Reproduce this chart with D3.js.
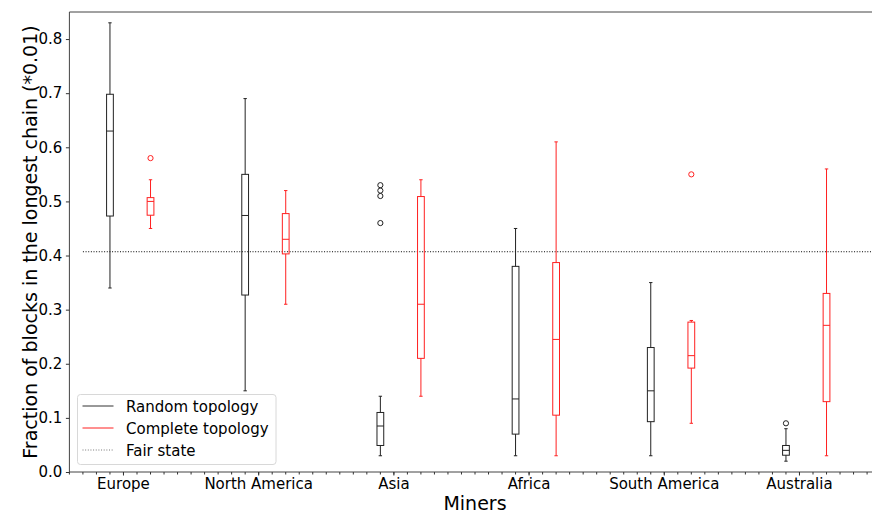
<!DOCTYPE html>
<html>
<head>
<meta charset="utf-8">
<script src="https://cdn.jsdelivr.net/npm/d3@7"></script>
<style>
  body { margin: 0; background: #fff; }
  text { font-family: "DejaVu Sans", sans-serif; fill: #000; }
</style>
</head>
<body>
<script>
// data: [lower whisker, q1, median, q3, upper whisker]
const regions = ['Europe', 'North America', 'Asia', 'Africa', 'South America', 'Australia'];
const randomStats = [
  [0.34, 0.473, 0.63, 0.698, 0.83],
  [0.15, 0.327, 0.474, 0.55, 0.69],
  [0.03, 0.049, 0.085, 0.11, 0.14],
  [0.03, 0.07, 0.135, 0.38, 0.45],
  [0.03, 0.093, 0.15, 0.23, 0.35],
  [0.02, 0.031, 0.04, 0.049, 0.08],
];
const randomOutliers = [[], [], [0.53, 0.52, 0.51, 0.46], [], [], [0.09]];
const completeStats = [
  [0.45, 0.4745, 0.50, 0.507, 0.54],
  [0.31, 0.403, 0.43, 0.4775, 0.52],
  [0.14, 0.21, 0.31, 0.509, 0.54],
  [0.03, 0.105, 0.245, 0.387, 0.61],
  [0.09, 0.192, 0.215, 0.277, 0.28],
  [0.03, 0.13, 0.271, 0.33, 0.56],
];
const completeOutliers = [[0.58], [], [], [], [0.55], []];
const fairState = 0.407;
const yTicks = [0, 0.1, 0.2, 0.3, 0.4, 0.5, 0.6, 0.7, 0.8];

const width = 872;
const height = 514;
const margin = { top: 12, left: 69.4, bottom: 42 };

const svg = d3.select('body').append('svg')
  .attr('width', width)
  .attr('height', height);

// box positions: random at 10i+3, label at 10i+4, complete at 10i+6
const x = d3.scaleLinear().domain([0, 60]).range([margin.left, margin.left + 60 * 13.52]);
const y = d3.scaleLinear().domain([0, 0.85]).range([height - margin.bottom, margin.top]);
const boxW = x(0.5) - x(0);

// spines
svg.append('line')
  .attr('x1', x(0)).attr('x2', width)
  .attr('y1', y(0.85)).attr('y2', y(0.85))
  .attr('stroke', '#444');
svg.append('line')
  .attr('x1', x(0)).attr('x2', x(0))
  .attr('y1', y(0)).attr('y2', y(0.85))
  .attr('stroke', '#444');
svg.append('line')
  .attr('x1', x(0)).attr('x2', width)
  .attr('y1', y(0)).attr('y2', y(0))
  .attr('stroke', '#444');

// y axis
const yAxis = svg.append('g')
  .attr('transform', `translate(${x(0)},0)`)
  .call(d3.axisLeft(y).tickValues(yTicks).tickFormat(d3.format('.1f')).tickSize(3.5).tickPadding(3.5));
yAxis.select('.domain').remove();
yAxis.selectAll('line').attr('stroke', '#333');
yAxis.selectAll('text').style('font-size', '15px').style('font-family', '"DejaVu Sans", sans-serif');

// x axis: minor ticks every unit, labels at group centres
const xAxisG = svg.append('g').attr('transform', `translate(0,${y(0)})`);
xAxisG.selectAll('line.minor')
  .data(d3.range(0, 61))
  .enter().append('line')
    .attr('x1', d => x(d)).attr('x2', d => x(d))
    .attr('y1', 0).attr('y2', 2.5)
    .attr('stroke', '#333');
xAxisG.selectAll('line.major')
  .data(regions)
  .enter().append('line')
    .attr('x1', (d, i) => x(10 * i + 4)).attr('x2', (d, i) => x(10 * i + 4))
    .attr('y1', 0).attr('y2', 3.5)
    .attr('stroke', '#333');
xAxisG.selectAll('text')
  .data(regions)
  .enter().append('text')
    .attr('x', (d, i) => x(10 * i + 4))
    .attr('y', 16.5)
    .attr('text-anchor', 'middle')
    .style('font-size', '15px')
    .text(d => d);

// axis titles
svg.append('text')
  .attr('x', (x(0) + x(60)) / 2)
  .attr('y', 509.5)
  .attr('text-anchor', 'middle')
  .style('font-size', '19px')
  .text('Miners');
svg.append('text')
  .attr('transform', `translate(37,${(y(0) + y(0.85)) / 2}) rotate(-90)`)
  .attr('text-anchor', 'middle')
  .style('font-size', '19px')
  .text('Fraction of blocks in the longest chain (*0.01)');

// fair state line
svg.append('line')
  .attr('x1', x(1)).attr('x2', width)
  .attr('y1', y(fairState)).attr('y2', y(fairState))
  .attr('stroke', '#000')
  .attr('stroke-dasharray', '1,1.65');

function drawBoxes(stats, outliers, offset, color) {
  const g = svg.append('g');
  stats.forEach((s, i) => {
    const cx = x(10 * i + offset);
    const [lo, q1, med, q3, hi] = s;
    const b = g.append('g').attr('stroke', color).attr('fill', 'none');
    b.append('line').attr('x1', cx).attr('x2', cx).attr('y1', y(q3)).attr('y2', y(hi));
    b.append('line').attr('x1', cx).attr('x2', cx).attr('y1', y(q1)).attr('y2', y(lo));
    b.append('line').attr('x1', cx - boxW / 4).attr('x2', cx + boxW / 4).attr('y1', y(hi)).attr('y2', y(hi));
    b.append('line').attr('x1', cx - boxW / 4).attr('x2', cx + boxW / 4).attr('y1', y(lo)).attr('y2', y(lo));
    b.append('rect')
      .attr('x', cx - boxW / 2).attr('width', boxW)
      .attr('y', y(q3)).attr('height', y(q1) - y(q3));
    b.append('line').attr('x1', cx - boxW / 2).attr('x2', cx + boxW / 2).attr('y1', y(med)).attr('y2', y(med));
    b.selectAll('circle')
      .data(outliers[i])
      .enter().append('circle')
        .attr('cx', cx).attr('cy', d => y(d)).attr('r', 2.6);
  });
}
drawBoxes(randomStats, randomOutliers, 3, '#222');
drawBoxes(completeStats, completeOutliers, 6, '#ff2020');

// legend
const legend = svg.append('g').attr('transform', 'translate(77.5,394.5)');
legend.append('rect')
  .attr('width', 198.5).attr('height', 70)
  .attr('rx', 3)
  .attr('fill', '#fff').attr('fill-opacity', 0.8)
  .attr('stroke', '#d8d8d8');
const legendItems = [
  { label: 'Random topology', color: '#333', dash: null },
  { label: 'Complete topology', color: '#ff2020', dash: null },
  { label: 'Fair state', color: '#777', dash: '1,1.65' },
];
legendItems.forEach((d, i) => {
  const rowY = 11.5 + i * 22;
  legend.append('line')
    .attr('x1', 5).attr('x2', 36)
    .attr('y1', rowY).attr('y2', rowY)
    .attr('stroke', d.color)
    .attr('stroke-dasharray', d.dash);
  legend.append('text')
    .attr('x', 48.5).attr('y', rowY + 5.5)
    .style('font-size', '15px')
    .text(d.label);
});
</script>
</body>
</html>
